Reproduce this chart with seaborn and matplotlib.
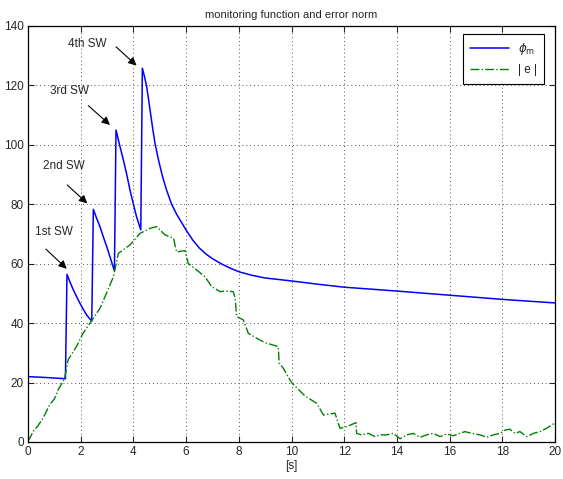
import matplotlib
matplotlib.use('Agg')
import matplotlib.pyplot as plt
import seaborn as sns

# monitoring function phi_m (blue)
t_phi = [0.0, 0.7, 1.42, 1.48, 1.6, 1.72, 1.85, 1.97, 2.1, 2.23, 2.33, 2.42,
         2.48, 2.6, 2.73, 2.86, 2.99, 3.14, 3.28,
         3.34, 3.48, 3.62, 3.75, 3.87, 4.0, 4.12, 4.28,
         4.34, 4.42, 4.5, 4.58, 4.66, 4.74, 4.82, 4.95, 5.1, 5.25, 5.45, 5.65,
         5.8, 6.0, 6.25, 6.5, 6.75, 7.0, 7.33, 7.65, 8.0, 8.5, 9.0, 9.5, 10.0,
         11.0, 12.0, 14.0, 16.0, 18.0, 20.0]
phi_m = [22.0, 21.7, 21.3, 56.4, 53.7, 51.2, 48.8, 46.7, 44.6, 42.7, 41.6, 40.7,
         78.3, 75.4, 72.5, 69.0, 65.7, 61.5, 57.6,
         105.0, 99.8, 94.9, 89.9, 84.8, 80.0, 75.8, 71.4,
         125.8, 123.0, 119.8, 115.0, 110.0, 105.0, 100.5, 95.0, 89.5, 85.0, 80.0, 76.5,
         74.3, 71.3, 68.0, 65.3, 63.3, 61.7, 60.0, 58.6, 57.3, 56.1, 55.2, 54.7, 54.2,
         53.1, 52.1, 50.8, 49.4, 48.0, 46.8]

# error norm |e| (green, dash-dot)
t_err = [0.0, 0.1, 0.19, 0.38, 0.57, 0.82, 1.0, 1.14, 1.39, 1.52, 1.83, 2.09, 2.43,
         2.73, 3.0, 3.24, 3.43, 3.87, 4.25, 4.63, 4.88, 5.2, 5.52, 5.64, 5.96,
         6.08, 6.4, 6.72, 6.97, 7.29, 7.48, 7.79, 7.86, 7.92, 8.17, 8.36, 8.68,
         9.0, 9.31, 9.5, 9.53, 9.69, 10.0, 10.51, 10.96, 11.21, 11.65, 11.84,
         12.1, 12.45, 12.47, 12.66, 12.92, 13.17, 13.36, 13.61, 13.86, 14.12,
         14.37, 14.62, 14.88, 15.13, 15.38, 15.64, 15.89, 16.14, 16.39, 16.58,
         16.84, 17.15, 17.41, 17.66, 17.91, 18.1, 18.29, 18.48, 18.67, 18.93,
         19.18, 19.43, 19.68, 20.0]
err = [0.3, 1.8, 3.5, 5.5, 8.0, 12.5, 14.5, 17.5, 21.4, 27.6, 32.0, 36.6, 41.0,
       45.0, 50.5, 55.6, 63.5, 66.3, 70.2, 71.9, 72.5, 69.7, 68.6, 64.0, 64.4,
       60.1, 57.9, 55.6, 52.3, 50.6, 50.8, 50.6, 48.4, 42.2, 41.1, 36.6, 34.9,
       33.4, 32.6, 32.1, 26.5, 24.8, 20.0, 15.5, 13.0, 9.1, 9.7, 4.6,
       5.2, 6.5, 2.9, 2.4, 2.9, 1.8, 2.4, 2.4, 2.9, 1.1,
       2.4, 2.9, 1.6, 2.4, 2.9, 1.8, 2.7, 2.1, 2.9, 3.5,
       2.9, 2.4, 1.6, 2.4, 2.9, 4.0, 4.3, 2.9, 3.5, 1.8,
       2.9, 3.5, 4.6, 6.4]

x_ticks = [0, 2, 4, 6, 8, 10, 12, 14, 16, 18, 20]
y_ticks = [0, 20, 40, 60, 80, 100, 120, 140]

# switch annotations: label, text position, arrow tail, arrow head
sw_labels = ['1st SW', '2nd SW', '3rd SW', '4th SW']
sw_text_xy = [(1.0, 70.6), (1.38, 92.9), (1.56, 118.2), (2.24, 134.0)]
sw_tail_xy = [(0.68, 64.9), (1.49, 86.5), (2.29, 113.2), (3.34, 133.0)]
sw_head_xy = [(1.47, 58.3), (2.25, 80.3), (3.11, 106.7), (4.12, 126.7)]

sns.set_style('ticks')
plt.rcParams['font.family'] = ['Liberation Sans', 'DejaVu Sans']
plt.rcParams['mathtext.fontset'] = 'dejavusans'

fig = plt.figure(figsize=(5.63, 4.79), dpi=100)
ax = fig.add_axes([28 / 563, 37 / 479, 527 / 563, 416 / 479])

sns.lineplot(x=t_phi, y=phi_m, ax=ax, color='#0000ff', lw=1.1, sort=False,
             estimator=None, label=r'$\phi_{\rm m}$')
sns.lineplot(x=t_err, y=err, ax=ax, color='#008000', lw=1.0, sort=False,
             estimator=None, linestyle='-.', label='| e |')

ax.set_xlim(0, 20)
ax.set_ylim(0, 140)
ax.set_xticks(x_ticks)
ax.set_yticks(y_ticks)
ax.tick_params(direction='in', length=4, width=0.8, labelsize=8.5,
               top=True, right=True, pad=3)
ax.grid(True, linestyle=(0, (1, 3)), color='#555555', lw=0.7)
for s in ax.spines.values():
    s.set_linewidth(0.9)
    s.set_color('black')

ax.set_title('monitoring function and error norm', fontsize=8, pad=6)
ax.set_xlabel('[s]', fontsize=8.5, labelpad=1)
ax.set_ylabel('')

for lab, txy, tail, head in zip(sw_labels, sw_text_xy, sw_tail_xy, sw_head_xy):
    ax.text(txy[0], txy[1], lab, fontsize=8.5, ha='center', va='center')
    ax.annotate('', xy=head, xytext=tail,
                arrowprops=dict(arrowstyle='-|>', color='black', lw=0.8,
                                mutation_scale=12, shrinkA=0, shrinkB=0))

leg = ax.legend(loc='upper right', bbox_to_anchor=(0.98, 0.98), borderaxespad=0,
                fontsize=8.5, handlelength=3.3, fancybox=False, framealpha=1,
                edgecolor='black', borderpad=0.6, labelspacing=0.6)
leg.get_frame().set_linewidth(0.8)

fig.savefig('out.png', dpi=100)
